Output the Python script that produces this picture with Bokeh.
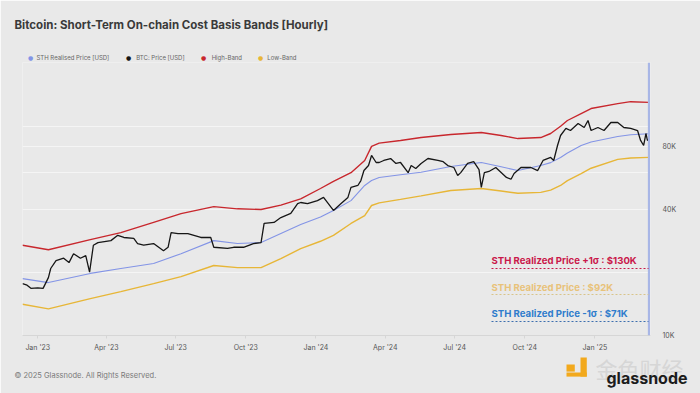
import pandas as pd
from bokeh.plotting import figure
from bokeh.models import (FixedTicker, DatetimeTickFormatter, Label, Span, Arrow,
                          ColumnDataSource)
from bokeh.embed import file_html
from bokeh.resources import INLINE

# ---------------- data ----------------
band_dates = ["2022-12-12", "2023-01-15", "2023-03-11", "2023-04-20", "2023-06-02", "2023-07-08",
              "2023-08-20", "2023-09-20", "2023-10-21", "2023-11-16", "2023-12-12", "2024-01-07",
              "2024-01-24", "2024-02-16", "2024-03-05", "2024-03-14", "2024-03-24", "2024-04-21",
              "2024-05-18", "2024-06-26", "2024-08-05", "2024-08-31", "2024-09-22", "2024-10-22",
              "2024-11-04", "2024-11-17", "2024-11-26", "2024-12-14", "2024-12-27", "2025-01-31",
              "2025-02-17", "2025-03-13"]
high_band = [27.0, 25.7, 28.7, 31.0, 34.7, 38.2, 41.3, 40.3, 40.0, 42.0, 45.0, 50.4,
             54.5, 60.0, 68.6, 80.1, 83.0, 85.5, 88.3, 91.3, 93.3, 90.3, 87.3, 88.3,
             92.3, 100.0, 106.5, 115.0, 121.5, 128.2, 131.0, 130.0]
sth_realized = [18.7, 17.9, 19.8, 20.9, 22.1, 24.6, 28.4, 27.5, 27.8, 30.7, 33.9, 36.8,
                39.6, 44.1, 52.1, 55.0, 56.9, 58.6, 60.3, 64.2, 67.1, 64.0, 61.4, 64.9,
                67.0, 70.9, 74.5, 80.9, 84.0, 89.3, 91.0, 92.0]
low_band = [14.1, 13.4, 15.0, 16.2, 17.7, 19.1, 21.6, 21.1, 21.1, 23.3, 26.0, 28.2,
            30.1, 34.3, 37.4, 41.8, 43.0, 44.7, 46.5, 49.3, 50.4, 49.0, 47.8, 48.3,
            49.5, 52.1, 55.0, 59.4, 63.0, 69.4, 70.5, 71.0]

price_dates = ["2022-12-12", "2022-12-18", "2022-12-23", "2023-01-01", "2023-01-08", "2023-01-15",
               "2023-01-18", "2023-01-25", "2023-02-04", "2023-02-11", "2023-02-17", "2023-02-26",
               "2023-03-05", "2023-03-10", "2023-03-15", "2023-03-21", "2023-04-07", "2023-04-16",
               "2023-04-24", "2023-05-07", "2023-05-12", "2023-05-20", "2023-06-02", "2023-06-15",
               "2023-06-21", "2023-06-25", "2023-07-04", "2023-07-17", "2023-08-03", "2023-08-16",
               "2023-08-20", "2023-09-07", "2023-09-15", "2023-09-28", "2023-10-11", "2023-10-21",
               "2023-10-25", "2023-11-07", "2023-11-16", "2023-11-29", "2023-12-08", "2023-12-12",
               "2023-12-21", "2024-01-03", "2024-01-11", "2024-01-24", "2024-02-03", "2024-02-12",
               "2024-02-16", "2024-02-25", "2024-02-29", "2024-03-04", "2024-03-10", "2024-03-14",
               "2024-03-20", "2024-03-24", "2024-03-30", "2024-04-08", "2024-04-15", "2024-04-21",
               "2024-05-01", "2024-05-05", "2024-05-11", "2024-05-18", "2024-05-27", "2024-06-09",
               "2024-06-16", "2024-06-22", "2024-06-30", "2024-07-05", "2024-07-09", "2024-07-18",
               "2024-07-26", "2024-08-02", "2024-08-05", "2024-08-09", "2024-08-15", "2024-08-24",
               "2024-09-07", "2024-09-13", "2024-09-17", "2024-09-26", "2024-10-09", "2024-10-18",
               "2024-10-25", "2024-11-04", "2024-11-08", "2024-11-13", "2024-11-17", "2024-11-24",
               "2024-11-30", "2024-12-10", "2024-12-18", "2024-12-23", "2024-12-27", "2025-01-05",
               "2025-01-13", "2025-01-22", "2025-01-31", "2025-02-08", "2025-02-17", "2025-02-26",
               "2025-03-02", "2025-03-06", "2025-03-09", "2025-03-11", "2025-03-13"]
btc_price = [17.7, 17.4, 16.8, 16.9, 16.8, 18.9,
             20.9, 22.8, 23.4, 22.3, 24.6, 23.4,
             24.1, 20.1, 27.0, 27.8, 28.4, 30.1,
             29.4, 29.1, 27.5, 27.0, 27.5, 25.4,
             26.4, 31.0, 30.7, 30.7, 29.4, 29.4,
             26.4, 26.1, 26.4, 26.4, 27.5, 27.8,
             34.3, 34.7, 36.6, 38.3, 42.7, 43.2,
             42.7, 44.1, 45.7, 39.6, 42.7, 45.7,
             51.0, 52.1, 55.0, 61.4, 64.9, 72.5,
             67.1, 67.1, 68.6, 70.1, 66.4, 67.1,
             60.0, 64.9, 62.8, 66.4, 70.1, 68.6,
             67.7, 64.9, 63.5, 58.1, 60.0, 66.4,
             67.7, 62.0, 51.0, 60.0, 60.8, 63.5,
             56.9, 55.8, 59.4, 63.5, 63.5, 61.4,
             68.6, 70.9, 68.6, 80.9, 90.3, 97.6,
             95.4, 103.1, 98.6, 106.5, 95.4, 98.6,
             95.4, 104.2, 104.2, 98.6, 97.6, 95.4,
             85.5, 80.9, 92.3, 85.5, 86.0]

x_ticks = ["2023-01-01", "2023-04-01", "2023-07-01", "2023-10-01", "2024-01-01",
           "2024-04-01", "2024-07-01", "2024-10-01", "2025-01-01"]
y_grid_values = [10000, 20000, 40000, 60000, 80000, 100000]
y_tick_labels = {10000: "10K", 20000: "", 40000: "40K", 60000: "", 80000: "80K", 100000: ""}

legend_names = ["STH Realised Price [USD]", "BTC: Price [USD]", "High-Band", "Low-Band"]
annotation_names = ["STH Realized Price +1σ : $130K", "STH Realized Price  : $92K",
                    "STH Realized Price -1σ : $71K"]

# ---------------- build ----------------
bd = pd.to_datetime(band_dates)
pdts = pd.to_datetime(price_dates)
bands = ColumnDataSource(dict(d=bd, hi=[v * 1000 for v in high_band],
                              mid=[v * 1000 for v in sth_realized],
                              lo=[v * 1000 for v in low_band]))
price = ColumnDataSource(dict(d=pdts, p=[v * 1000 for v in btc_price]))

BG = "#e9e9e9"
RED = "#c8272d"
BLUE = "#8394e6"
YEL = "#e7b637"
BLK = "#161616"

p = figure(width=700, height=393, x_axis_type="datetime", y_axis_type="log",
           y_axis_location="right", output_backend="svg", toolbar_location=None,
           x_range=(pd.Timestamp("2022-12-12"), pd.Timestamp("2025-03-15")),
           y_range=(10000, 201600),
           min_border_left=22, min_border_right=50, min_border_top=62, min_border_bottom=58)
p.background_fill_color = BG
p.border_fill_color = BG
p.outline_line_color = None
p.xgrid.grid_line_color = None
p.ygrid.grid_line_color = "#f5f5f5"
p.ygrid.grid_line_width = 1
p.ygrid.ticker = FixedTicker(ticks=y_grid_values)

yax = p.yaxis[0]
yax.ticker = FixedTicker(ticks=y_grid_values, minor_ticks=[])
yax.major_label_overrides = y_tick_labels
yax.axis_line_color = None
yax.major_tick_line_color = None
yax.minor_tick_line_color = None
yax.major_label_text_font = "Inter"
yax.major_label_text_font_size = "7px"
yax.major_label_text_color = "#555555"
yax.major_label_text_baseline = "bottom"
yax.major_label_standoff = 6

xax = p.xaxis[0]
xax.ticker = FixedTicker(ticks=[pd.Timestamp(t).value / 1e6 for t in x_ticks], minor_ticks=[])
fmt = "%b '%y"
xax.formatter = DatetimeTickFormatter(days=fmt, months=fmt, years=fmt, hours=fmt,
                                      minutes=fmt, seconds=fmt, milliseconds=fmt,
                                      microseconds=fmt, hourmin=fmt, minsec=fmt)
xax.axis_line_color = "#d6d6d6"
xax.major_tick_line_color = "#d6d6d6"
xax.major_tick_in = 0
xax.major_tick_out = 3
xax.minor_tick_line_color = None
xax.major_label_text_font = "Inter"
xax.major_label_text_font_size = "7px"
xax.major_label_text_color = "#555555"
xax.major_label_standoff = 4

# series
p.line("d", "lo", source=bands, line_color=YEL, line_width=1.4)
p.line("d", "hi", source=bands, line_color=RED, line_width=1.4)
p.line("d", "mid", source=bands, line_color=BLUE, line_width=1.1)
p.line("d", "p", source=price, line_color=BLK, line_width=1.3)

# current marker
last = bd[-1]
p.add_layout(Span(location=last, dimension="height", line_color="#a8b6e6", line_width=2.2))
p.segment(x0=[last], y0=[10000], x1=[last], y1=[high_band[-1] * 1000],
          line_color="#4a4a55", line_width=1.4, line_dash="1 2")

# annotations inside the frame (screen units from frame bottom-left)
ann_colors = ["#c9184a", "#e8c27a", "#2f7ccc"]
ann_line_colors = ["#c9184a", "#d9c48a", "#3d6fae"]
ann_y = [75, 48, 22]
ann_line_y = [67, 41, 14]
for name, c, lc, ty, ly in zip(annotation_names, ann_colors, ann_line_colors, ann_y, ann_line_y):
    p.add_layout(Label(x=469, y=ty, x_units="screen", y_units="screen", text=name,
                       text_font="Inter", text_font_style="bold", text_font_size="9.6px",
                       text_color=c, text_baseline="middle", text_align="left"))
    p.add_layout(Arrow(end=None, x_start=469, y_start=ly, x_end=626, y_end=ly,
                       start_units="screen", end_units="screen",
                       line_color=lc, line_width=1, line_dash="2 2"))

# texts outside the frame: canvas units, placed in side panels (not clipped)
def canvas_label(panel, **kw):
    p.add_layout(Label(x_units="canvas", y_units="canvas", **kw), panel)

canvas_label("above", x=14, y=24, text="Bitcoin: Short-Term On-chain Cost Basis Bands [Hourly]",
             text_font="Inter", text_font_style="bold", text_font_size="11.5px",
             text_color="#3a3a3a", text_baseline="middle")

# legend row: one text line (non-breaking spaces keep the item gaps) + coloured dots
NB = "\u00a0"
gaps = [16, 16, 15]
legend_text = legend_names[0]
for g, n in zip(gaps, legend_names[1:]):
    legend_text += NB * g + n
canvas_label("above", x=36, y=57, text=legend_text, text_font="Inter", text_font_size="6px",
             text_color="#666666", text_baseline="middle")
leg_colors = [BLUE, BLK, RED, YEL]
leg_dot_x = [30, 128, 203, 260]
for c, dx in zip(leg_colors, leg_dot_x):
    canvas_label("left", x=dx, y=57, text="●", text_font="DejaVu Sans", text_font_size="6px",
                 text_color=c, text_baseline="middle", text_align="center")

canvas_label("above", x=595, y=367, text="金色财经", text_font="Noto Sans CJK SC",
             text_font_size="22px", text_color="#d6d6d6", text_baseline="middle")

canvas_label("below", x=14, y=375, text="© 2025 Glassnode. All Rights Reserved.",
             text_font="Inter", text_font_size="7.5px", text_color="#7a7a7a",
             text_baseline="middle")
canvas_label("below", x=606, y=377, text="glassnode", text_font="Inter",
             text_font_style="bold", text_font_size="16px", text_color="#1c1c1c",
             text_baseline="middle")

# watermark icon blocks
ICON = "#f2a91d"
def icon_block(panel, x, y, w, h):
    canvas_label(panel, x=x, y=y, text=" ", text_font_size="1px", text_align="left",
                 text_baseline="top", background_fill_color=ICON, background_fill_alpha=1,
                 padding=dict(left=0, right=w, top=0, bottom=h))

icon_block("right", 566, 364, 8, 6)
icon_block("right", 580, 357, 6, 18)
icon_block("above", 566, 372, 20, 3)

open("out.html", "w").write(file_html(p, INLINE))
